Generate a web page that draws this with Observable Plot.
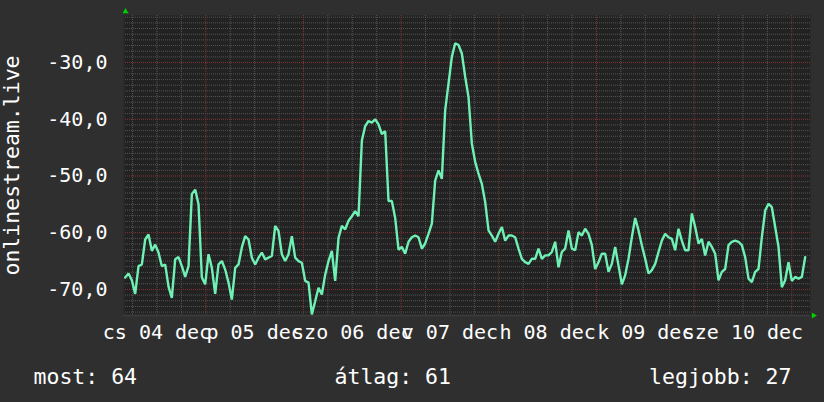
<!DOCTYPE html>
<html>
<head>
<meta charset="utf-8">
<script src="https://cdn.jsdelivr.net/npm/d3@7"></script>
<script src="https://cdn.jsdelivr.net/npm/@observablehq/plot@0.6"></script>
<style>
  html, body { margin: 0; padding: 0; background: #2f2f2f; }
  #chart { width: 824px; height: 402px; overflow: hidden; }
</style>
</head>
<body>
<div id="chart"></div>
<script>
// time axis: hours since 04 dec 00:00; one sample every ~49 minutes
const T0 = 4.195;
const STEP = 0.8191;
const values = [
  // 04 dec – 05 dec
  -67.9, -67.2, -68.4, -70.8, -65.9, -65.6, -61.2, -60.3, -63.2, -62.1,
  -63.5, -65.9, -65.6, -69.5, -71.5, -64.7, -64.3, -65.9, -67.8, -65.9,
  -53.2, -52.4, -55.0, -67.9, -69.1, -63.8, -66.2, -70.8, -65.6, -65.0,
  -66.5, -68.8, -71.8, -66.2, -65.6, -62.6, -60.6, -61.2, -64.4, -65.6,
  // 05 dec – 06 dec
  -64.4, -63.5, -64.7, -64.4, -64.1, -58.8, -59.7, -63.8, -65.0, -63.8,
  -60.6, -64.4, -65.0, -65.3, -68.5, -68.8, -74.4, -72.1, -69.7, -70.9,
  -67.4, -65.0, -63.2, -68.5, -60.9, -58.8, -59.4, -57.9, -57.1, -56.2,
  -57.1, -43.8, -41.2, -40.3, -40.6, -40.0, -40.9, -42.6, -42.1, -54.4,
  -54.4, -57.4,
  // 06 dec – 08 dec
  -63.0, -62.5, -63.7, -61.6, -60.8, -60.5, -60.8, -62.8, -61.9, -60.2,
  -58.4, -50.8, -49.0, -50.5, -38.4, -33.7, -29.0, -26.6, -26.9, -28.4,
  -32.5, -36.1, -44.3, -47.5, -49.6, -51.4, -54.6, -59.6, -60.5, -61.6,
  -60.2, -59.0, -61.4, -60.5, -60.5, -60.8, -62.8, -64.6, -65.2, -65.5,
  -64.6, -64.6,
  // 08 dec – 09 dec
  -62.8, -64.6, -64.0, -64.0, -63.4, -61.6, -66.1, -63.4, -62.8, -59.6,
  -62.8, -63.1, -59.9, -60.5, -59.3, -60.2, -62.2, -66.4, -65.2, -63.7,
  -63.7, -66.9, -65.5, -62.5, -65.8, -69.1, -67.5, -64.6, -60.8, -57.4,
  -59.6, -62.2, -64.6, -67.2, -66.6, -65.5, -63.4, -61.4, -60.2, -60.8,
  -61.1, -63.1,
  // 10 dec – 11 dec
  -59.3, -61.4, -63.1, -63.1, -56.6, -59.0, -61.9, -61.1, -64.0, -61.6,
  -62.5, -63.7, -68.4, -66.9, -66.4, -62.2, -61.6, -61.4, -61.6, -62.2,
  -64.3, -68.1, -68.7, -66.9, -66.4, -60.8, -56.1, -54.9, -55.5, -59.0,
  -62.5, -69.6, -68.4, -65.2, -68.5, -67.8, -68.1, -67.8, -64.3
];
const xDomain = [3.78, 172.6];
const yDomain = [-74.6, -21.7];
const yTicks = [-70, -60, -50, -40, -30];
const dayNoon = [12, 36, 60, 84, 108, 132, 156];
const dayLabels = ["cs 04 dec", "p 05 dec", "szo 06 dec", "v 07 dec", "h 08 dec", "k 09 dec", "sze 10 dec"];
const yTitle = "onlinestream.live";
const legendLabels = ["most: 64", "átlag: 61", "legjobb: 27"];

const data = values.map((v, i) => ({t: T0 + i * STEP, v}));
const minorY = d3.range(-74, -21, 1).filter(v => v % 10 !== 0);
const minorX = d3.range(6, 173, 6).filter(h => h % 24 !== 0);
const majorX = d3.range(24, 173, 24);

const MINOR = "#555555";
const MAJOR = "#853434";
const FONT = 21.5;

const chart = Plot.plot({
  width: 824,
  height: 402,
  marginLeft: 123,
  marginRight: 14,
  marginTop: 15,
  marginBottom: 87,
  x: {domain: xDomain},
  y: {domain: yDomain},
  style: {background: "#2f2f2f", color: "#ffffff", fontFamily: "'DejaVu Sans Mono', monospace"},
  marks: [
    Plot.frame({fill: "#222222"}),
    Plot.ruleY(minorY, {stroke: MINOR, strokeDasharray: "1,1"}),
    Plot.ruleX(minorX, {stroke: MINOR, strokeDasharray: "1,1"}),
    Plot.ruleY(yTicks, {stroke: MAJOR, strokeDasharray: "1,1"}),
    Plot.ruleX(majorX, {stroke: MAJOR, strokeDasharray: "1,1"}),
    Plot.ruleX([xDomain[0]], {stroke: "#2c2c2c", strokeWidth: 2}),
    Plot.ruleY([yDomain[0]], {stroke: "#3a3a3a", strokeWidth: 2}),
    Plot.line(data, {x: "t", y: "v", stroke: "#6ff0b4", strokeWidth: 2.4, strokeLinejoin: "miter"}),
    Plot.axisY({ticks: yTicks, tickFormat: d => d.toFixed(1).replace(".", ","), tickSize: 0, tickPadding: 16, fontSize: 20, label: null, fill: "#ffffff"}),
    Plot.axisX({ticks: dayNoon, tickFormat: d => dayLabels[dayNoon.indexOf(d)], tickSize: 0, tickPadding: 9, fontSize: 20, label: null, fill: "#ffffff"}),
    Plot.text([yTitle], {text: d => d, frameAnchor: "left", rotate: -90, dx: -104.5, textAnchor: "middle", lineAnchor: "bottom", fontSize: FONT, fill: "#ffffff"}),
    Plot.dot([0], {frameAnchor: "top-left", dx: 2, dy: -4, symbol: "triangle", r: 2.2, fill: "#00d000", stroke: "none"}),
    Plot.dot([0], {frameAnchor: "bottom-right", dx: 3, dy: 0, symbol: "triangle", rotate: 90, r: 2.2, fill: "#00d000", stroke: "none"}),
    Plot.text([legendLabels[0]], {text: d => d, frameAnchor: "bottom-left", dx: -90, dy: 68, textAnchor: "start", lineAnchor: "bottom", fontSize: FONT, fill: "#ffffff"}),
    Plot.text([legendLabels[1]], {text: d => d, frameAnchor: "bottom-left", dx: 211, dy: 68, textAnchor: "start", lineAnchor: "bottom", fontSize: FONT, fill: "#ffffff"}),
    Plot.text([legendLabels[2]], {text: d => d, frameAnchor: "bottom-right", dx: -19, dy: 68, textAnchor: "end", lineAnchor: "bottom", fontSize: FONT, fill: "#ffffff"})
  ]
});
document.getElementById("chart").appendChild(chart);
</script>
</body>
</html>
